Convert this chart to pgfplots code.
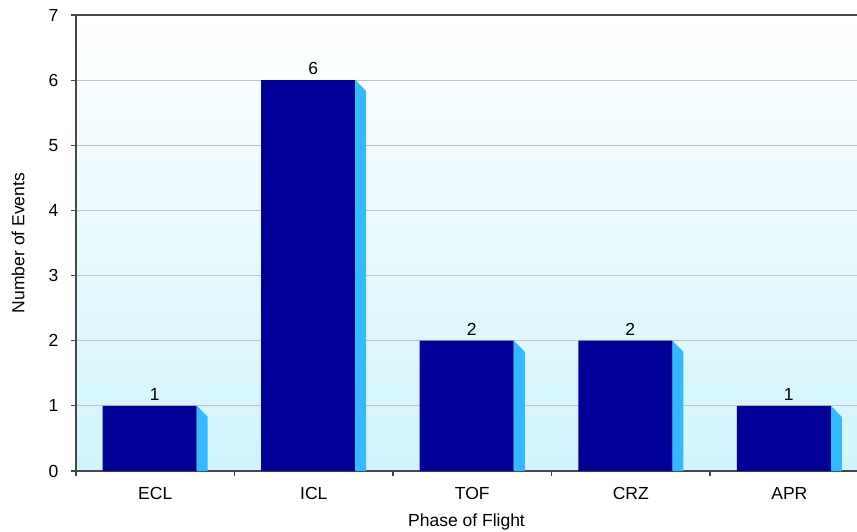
\documentclass[border=0pt]{standalone}
\usepackage{fontspec}
\setmainfont{Liberation Sans}
\usepackage{pgfplots}
\pgfplotsset{compat=1.18}
\definecolor{barfront}{RGB}{0,0,150}
\definecolor{barside}{RGB}{50,185,255}
\definecolor{bgcyan}{RGB}{208,244,252}
\definecolor{axisgray}{RGB}{70,70,70}
\definecolor{gridgray}{RGB}{195,195,195}
\begin{document}
\begin{tikzpicture}[font=\fontsize{17.5}{20}\selectfont]
\begin{axis}[name=ax, scale only axis, width=781pt, height=456pt,
  xmin=-0.5, xmax=4.427, ymin=0, ymax=7,
  axis y line*=left, axis x line*=bottom,
  axis line style={axisgray, line width=1.3pt},
  axis background/.style={top color=white, bottom color=bgcyan},
  xtick={0,...,4}, xticklabels={ECL,ICL,TOF,CRZ,APR},
  minor xtick={-0.5,0.5,1.5,2.5,3.5},
  major x tick style={draw=none},
  ytick={0,...,7},
  tick align=outside, major tick length=5pt, minor tick length=5pt,
  tick style={axisgray, line width=1.2pt},
  ymajorgrids, grid style={gridgray, line width=0.9pt},
  /pgf/number format/assume math mode=true,
  yticklabel style={xshift=-9pt},
  xticklabel style={yshift=-8pt},
  every axis y label/.style={at={(axis description cs:0,0.5)}, xshift=-58pt, rotate=90, anchor=center},
  every axis x label/.style={at={(axis description cs:0.5,0)}, yshift=-51pt, anchor=center},
  ylabel={Number of Events}, xlabel={Phase of Flight},
  clip=false,
]
% side faces of the bars
\addplot[fill=barside, draw=none] coordinates {(0.263,0) (0.263,1) (0.331,0.83) (0.331,0)} --cycle;
\addplot[fill=barside, draw=none] coordinates {(1.263,0) (1.263,6) (1.331,5.83) (1.331,0)} --cycle;
\addplot[fill=barside, draw=none] coordinates {(2.263,0) (2.263,2) (2.331,1.83) (2.331,0)} --cycle;
\addplot[fill=barside, draw=none] coordinates {(3.263,0) (3.263,2) (3.331,1.83) (3.331,0)} --cycle;
\addplot[fill=barside, draw=none] coordinates {(4.263,0) (4.263,1) (4.331,0.83) (4.331,0)} --cycle;
% front faces
\addplot[ybar, bar width=0.593, bar shift=0pt, fill=barfront, draw=none,
  nodes near coords, every node near coord/.append style={xshift=5pt, yshift=2pt, text=black}]
  coordinates {(-0.035,1) (0.965,6) (1.965,2) (2.965,2) (3.965,1)};
\draw[axisgray, line width=1.3pt] (rel axis cs:0,1) -- (rel axis cs:1,1);
\end{axis}
\pgfresetboundingbox
\path ([shift={(-76pt,-60pt)}]ax.south west) rectangle ([shift={(0pt,15pt)}]ax.north east);
\end{tikzpicture}
\end{document}
